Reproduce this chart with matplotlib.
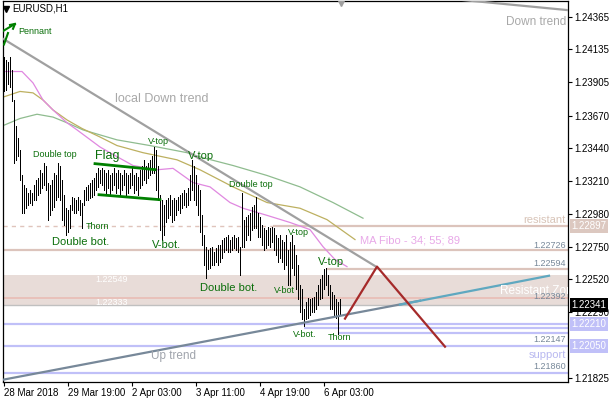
import matplotlib
matplotlib.use("Agg")
import matplotlib.pyplot as plt

plt.rcParams["font.family"] = ["Liberation Sans", "DejaVu Sans"]

# EURUSD H1, bar 0 = 28 Mar 2018 11:00, one bar per hour
highs = [
    1.2408, 1.2406, 1.2405, 1.2408, 1.2399, 1.2378, 1.2360, 1.2351, 1.2343, 1.2325,
    1.2318, 1.2316, 1.2313, 1.2315, 1.2313, 1.2318, 1.2322, 1.2323, 1.2329, 1.2327,
    1.2334, 1.2332, 1.2320, 1.2318, 1.2322, 1.2327, 1.2325, 1.2334, 1.2332, 1.2322,
    1.2311, 1.2302, 1.2301, 1.2304, 1.2310, 1.2309, 1.2308, 1.2310, 1.2308, 1.2306,
    1.2315, 1.2317, 1.2318, 1.2320, 1.2322, 1.2323, 1.2327, 1.2330, 1.2329, 1.2330,
    1.2329, 1.2327, 1.2329, 1.2325, 1.2327, 1.2330, 1.2327, 1.2329, 1.2327, 1.2325,
    1.2329, 1.2327, 1.2325, 1.2327, 1.2330, 1.2325, 1.2327, 1.2324, 1.2329, 1.2332,
    1.2336, 1.2332, 1.2334, 1.2336, 1.2339, 1.2345, 1.2343, 1.2332, 1.2311, 1.2308,
    1.2304, 1.2308, 1.2309, 1.2311, 1.2308, 1.2309, 1.2308, 1.2310, 1.2311, 1.2313,
    1.2315, 1.2313, 1.2316, 1.2325, 1.2336, 1.2332, 1.2325, 1.2318, 1.2315, 1.2297,
    1.2283, 1.2275, 1.2273, 1.2274, 1.2275, 1.2271, 1.2274, 1.2276, 1.2276, 1.2280,
    1.2281, 1.2282, 1.2283, 1.2280, 1.2282, 1.2283, 1.2281, 1.2282, 1.2275, 1.2313,
    1.2294, 1.2296, 1.2297, 1.2299, 1.2303, 1.2304, 1.2310, 1.2299, 1.2296, 1.2290,
    1.2288, 1.2287, 1.2289, 1.2288, 1.2289, 1.2288, 1.2283, 1.2281, 1.2283, 1.2280,
    1.2278, 1.2283, 1.2273, 1.2278, 1.2283, 1.2276, 1.2269, 1.2262, 1.2248, 1.2245,
    1.2231, 1.2236, 1.2239, 1.2238, 1.2239, 1.2240, 1.2243, 1.2248, 1.2252, 1.2255,
    1.2259, 1.2260, 1.2255, 1.2248, 1.2243, 1.2241, 1.2238, 1.2236, 1.2238,
]
lows = [
    1.2384, 1.2385, 1.2389, 1.2387, 1.2377, 1.2334, 1.2336, 1.2339, 1.2322, 1.2299,
    1.2299, 1.2302, 1.2304, 1.2306, 1.2304, 1.2308, 1.2308, 1.2311, 1.2313, 1.2316,
    1.2318, 1.2315, 1.2294, 1.2297, 1.2301, 1.2303, 1.2308, 1.2310, 1.2308, 1.2294,
    1.2290, 1.2283, 1.2285, 1.2288, 1.2301, 1.2299, 1.2299, 1.2301, 1.2297, 1.2288,
    1.2304, 1.2308, 1.2308, 1.2309, 1.2310, 1.2311, 1.2315, 1.2317, 1.2320, 1.2318,
    1.2315, 1.2313, 1.2316, 1.2311, 1.2315, 1.2318, 1.2313, 1.2316, 1.2311, 1.2315,
    1.2318, 1.2311, 1.2313, 1.2316, 1.2318, 1.2313, 1.2315, 1.2311, 1.2316, 1.2318,
    1.2322, 1.2320, 1.2323, 1.2325, 1.2327, 1.2327, 1.2315, 1.2308, 1.2287, 1.2280,
    1.2283, 1.2292, 1.2295, 1.2297, 1.2292, 1.2294, 1.2297, 1.2301, 1.2299, 1.2302,
    1.2304, 1.2303, 1.2304, 1.2308, 1.2315, 1.2308, 1.2304, 1.2297, 1.2285, 1.2276,
    1.2262, 1.2253, 1.2259, 1.2260, 1.2262, 1.2262, 1.2264, 1.2262, 1.2264, 1.2267,
    1.2271, 1.2273, 1.2271, 1.2271, 1.2273, 1.2274, 1.2273, 1.2271, 1.2255, 1.2275,
    1.2275, 1.2280, 1.2283, 1.2280, 1.2287, 1.2288, 1.2288, 1.2282, 1.2282, 1.2276,
    1.2273, 1.2274, 1.2276, 1.2275, 1.2278, 1.2273, 1.2269, 1.2264, 1.2267, 1.2264,
    1.2259, 1.2262, 1.2248, 1.2248, 1.2260, 1.2255, 1.2245, 1.2238, 1.2229, 1.2224,
    1.2219, 1.2224, 1.2225, 1.2227, 1.2229, 1.2229, 1.2231, 1.2234, 1.2238, 1.2239,
    1.2245, 1.2248, 1.2241, 1.2231, 1.2231, 1.2227, 1.2225, 1.2214, 1.2227,
]

time_ticks = [0, 32, 64, 96, 128, 160]
time_labels = ["28 Mar 2018", "29 Mar 19:00", "2 Apr 03:00",
               "3 Apr 11:00", "4 Apr 19:00", "6 Apr 03:00"]
price_ticks = [1.24365, 1.24135, 1.23905, 1.23670, 1.23440, 1.23210,
               1.22980, 1.22750, 1.22520, 1.22290, 1.21825]

# moving averages (34 / 55 / 89), read at a few bars
ma34_x = [-0.5, 9, 14.5, 19.5, 24.5, 31.5, 36.5, 48, 55.5, 64.5, 76.5, 84.5,
          94.5, 103, 113, 119.5, 131.5, 143, 153, 159.5, 165.5, 171.5]
ma34_y = [1.2398, 1.2398, 1.2390, 1.2378, 1.2371, 1.2362, 1.2357, 1.2345, 1.2339,
          1.2332, 1.2329, 1.2330, 1.2320, 1.2317, 1.2306, 1.2302, 1.2297, 1.2292,
          1.2287, 1.2275, 1.2266, 1.2261]
ma55_x = [-0.5, 8, 14.5, 19.5, 24.5, 31.5, 39, 48, 56.5, 69.5, 86.5, 98,
          114.5, 131.5, 148, 161.5, 175.5]
ma55_y = [1.2380, 1.2384, 1.2383, 1.2378, 1.2371, 1.2364, 1.2358, 1.2352, 1.2346,
          1.2341, 1.2336, 1.2329, 1.2317, 1.2306, 1.2302, 1.2294, 1.2280]
ma89_x = [-0.5, 8, 16.5, 24.5, 31.5, 39.5, 56.5, 73, 91.5, 98, 114.5, 131.5,
          148, 164.5, 179.5]
ma89_y = [1.2360, 1.2365, 1.2368, 1.2366, 1.2362, 1.2357, 1.2350, 1.2346, 1.2341,
          1.2338, 1.2332, 1.2325, 1.2317, 1.2306, 1.2295]

resist_level = 1.22897
fibo_levels = [1.22726, 1.22594]
zone_top, zone_mid, zone_bottom = 1.22549, 1.22392, 1.22333
bid = 1.22341
support_full = [1.22210, 1.22050, 1.21860]
support_short = [1.22178, 1.22147]
level_labels = [1.22726, 1.22594, 1.22392, 1.22147, 1.21860]

GREEN = "#0a6e0a"

fig = plt.figure(figsize=(6.1, 4.0), dpi=100)
ax = fig.add_axes([3 / 610, 18 / 400, 565 / 610, 381 / 400])
ax.set_xlim(-0.5, 282)
ax.set_ylim(1.21800, 1.24475)

# levels and zones
ax.axhspan(zone_bottom, zone_top, color="#e8dcd8", lw=0, zorder=0)
ax.axhline(zone_mid, color="#e8bcb4", lw=1.2, zorder=1)
ax.axhline(bid, color="#c0c0c0", lw=1, zorder=1)
ax.hlines(resist_level, -0.5, 134.5, color="#e0c4bc", lw=1, linestyle=(0, (3, 3)), zorder=1)
ax.hlines(resist_level, 134.5, 282, color="#dcc4bc", lw=1.6, zorder=1)
ax.axhline(fibo_levels[0], color="#dcc4bc", lw=1.6, zorder=1)
ax.hlines(fibo_levels[1], 161.5, 282, color="#dcc4bc", lw=1.6, zorder=1)
for lv in support_full:
    ax.axhline(lv, color="#c0c0f8", lw=1.6, zorder=1)
ax.hlines(support_short[0], 150, 282, color="#c0c0f8", lw=1.6, zorder=1)
ax.hlines(support_short[1], 167, 282, color="#c0c0f8", lw=1.6, zorder=1)

# moving averages
ax.plot(ma89_x, ma89_y, color="#8fbc8f", lw=0.9, zorder=2)
ax.plot(ma55_x, ma55_y, color="#bdb060", lw=0.9, zorder=2)
ax.plot(ma34_x, ma34_y, color="#e088e0", lw=0.9, zorder=2)

# bars
ax.vlines(range(len(highs)), lows, highs, color="black", lw=0.72,
          antialiased=False, zorder=3)

# trend lines
ax.plot([-0.5, 186], [1.24210, 1.22610], color="#a0a0a0", lw=1.6, zorder=4)
ax.plot([225, 290], [1.24488, 1.24400], color="#a0a0a0", lw=1.6, zorder=4)
ax.plot([-0.5, 208], [1.21816, 1.22371], color="#778899", lw=1.6, zorder=4)
ax.plot([198, 272.5], [1.22343, 1.22546], color="#5fa8c0", lw=1.6, zorder=4)
ax.plot([170.5, 186.5, 220.5], [1.22245, 1.22610, 1.22048], color="#a52a2a", lw=1.6, zorder=4)
ax.plot([45.5, 75.5], [1.23333, 1.23291], color="#008000", lw=2, zorder=4)
ax.plot([47.5, 78], [1.23115, 1.23080], color="#008000", lw=2, zorder=4)
ax.plot([0, 2], [1.24170, 1.24250], color="#008000", lw=1.5, zorder=4)
ax.plot([-0.5, 5.5], [1.24264, 1.24314], color="#008000", lw=1.5, zorder=4)
ax.plot([3, 5.5, 4.5], [1.24307, 1.24314, 1.24280], color="#008000", lw=1.5, zorder=4)


# pattern labels
def label(x, y, s, size, color=GREEN, ha="left"):
    ax.text(x, y, s, fontsize=size, color=color, ha=ha, va="center", zorder=6, clip_on=True)


label(7, 1.2426, "Pennant", 6.5)
label(14.5, 1.2340, "Double top", 6.5)
label(45.5, 1.2339, "Flag", 9)
label(72, 1.2349, "V-top", 6.5)
label(92, 1.2339, "V-top", 8)
label(41, 1.2289, "Thorn", 6.5)
label(24, 1.2278, "Double bot.", 8)
label(74, 1.2276, "V-bot.", 8)
label(112.5, 1.2319, "Double top", 6.5)
label(142, 1.2285, "V-top", 6.5)
label(157, 1.2264, "V-top", 8)
label(98, 1.2246, "Double bot.", 8)
label(135, 1.2244, "V-bot", 6.5)
label(144.5, 1.2213, "V-bot.", 6.5)
label(162, 1.2211, "Thorn", 6.5)
label(55.5, 1.2379, "local Down trend", 9, color="#a8a8a8")
label(281, 1.2433, "Down trend", 8.5, color="#a8a8a8", ha="right")
label(73.5, 1.2198, "Up trend", 8.5, color="#a0a4ac")
label(178, 1.2279, "MA Fibo - 34; 55; 89", 8, color="#e8a8e8")
label(281, 1.2294, "resistant", 8, color="#d8c4b8", ha="right")
label(281, 1.2199, "support", 8, color="#b8b8f0", ha="right")
label(248, 1.2244, "Resistant Zone", 8.5, color="white")
label(45.5, 1.2252, f"{zone_top:.5f}", 6.5, color="white")
label(45.5, 1.2236, f"{zone_bottom:.5f}", 6.5, color="white")
for price, ty in zip(level_labels, [1.2276, 1.2263, 1.2240, 1.2210, 1.2191]):
    label(281, ty, f"{price:.5f}", 6.5, color="#778899", ha="right")

ax.text(4, 1.2442, "EURUSD,H1", fontsize=7, color="black", va="center", zorder=6)
ax.plot([1], [1.2442], marker="v", color="black", markersize=4, zorder=6)
ax.plot([168.5], [1.24461], marker="v", color="#a0a0a0", markersize=5, zorder=6)

# right axis price boxes
for price, bg in [(resist_level, "#dcc8c0"), (bid, "black"),
                  (support_full[0], "#c0c0f8"), (support_full[1], "#c0c0f8")]:
    ax.annotate(f"{price:.5f}", xy=(1.0, price), xycoords=("axes fraction", "data"),
                xytext=(2.5, 0), textcoords="offset points", ha="left", va="center",
                fontsize=7, color="white", annotation_clip=False, zorder=10,
                bbox=dict(boxstyle="square,pad=0.2", fc=bg, ec="none"))

ax.yaxis.tick_right()
ax.set_yticks(price_ticks)
ax.set_yticklabels([f"{p:.5f}" for p in price_ticks])
ax.set_xticks(time_ticks)
ax.set_xticklabels(time_labels)
for lab in ax.get_xticklabels():
    lab.set_horizontalalignment("left")
ax.tick_params(axis="both", labelsize=7, length=3, width=0.8, color="black", pad=1.5)
for sp in ax.spines.values():
    sp.set_color("black")
    sp.set_linewidth(0.9)

fig.savefig("out.png", dpi=100, facecolor="white")
